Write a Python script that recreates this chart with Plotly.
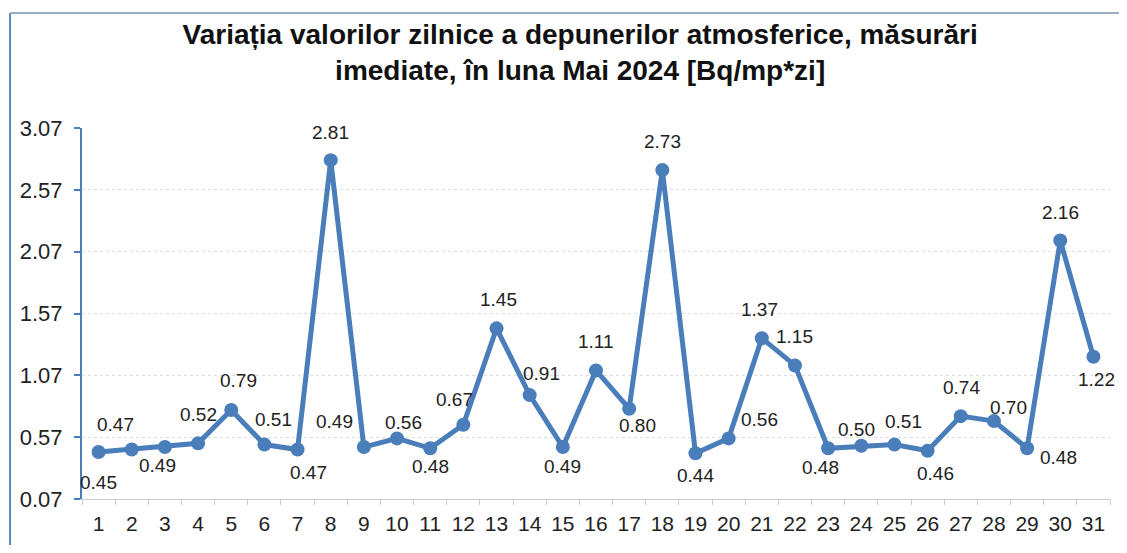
import plotly.graph_objects as go

days = [str(d) for d in range(1, 32)]
values = [0.45, 0.47, 0.49, 0.52, 0.79, 0.51, 0.47, 2.81, 0.49, 0.56,
          0.48, 0.67, 1.45, 0.91, 0.49, 1.11, 0.80, 2.73, 0.44, 0.56,
          1.37, 1.15, 0.48, 0.50, 0.51, 0.46, 0.74, 0.70, 0.48, 2.16, 1.22]
# label offsets in pixels (style only): horizontal shift, vertical shift (positive = up)
label_dx = [0, -16, -7, 0, 7, 9, 11, 0, -29, 6,
            0, -9, 2, 12, 0, 0, 8, 0, 0, 31,
            -2, 0, -8, -5, 9, 8, 1, 15, 31, 0, 3]
label_dy = [-30, 25, -18, 29, 29, 25, -23, 28, 26, 16,
            -18, 25, 29, 22, -19, 29, -17, 29, -22, 19,
            29, 29, -19, 16, 23, -23, 29, 14, -9, 28, -23]
y_ticks = [0.07, 0.57, 1.07, 1.57, 2.07, 2.57, 3.07]

title = "<b>Variația valorilor zilnice a depunerilor atmosferice, măsurări<br>imediate, în luna Mai 2024 [Bq/mp*zi]</b>"

blue = "#4A7EBB"

fig = go.Figure()
fig.add_trace(go.Scatter(
    x=days, y=values, mode="lines+markers",
    line=dict(color=blue, width=5),
    marker=dict(color=blue, size=14),
    showlegend=False,
))

# annotations on a category axis: use the category index so numeric-looking labels map correctly
for i, (v, dx, dy) in enumerate(zip(values, label_dx, label_dy)):
    fig.add_annotation(x=i, y=v, text=f"{v:.2f}", showarrow=False,
                       xshift=dx, yshift=dy,
                       font=dict(family="Liberation Sans, Arial", size=19, color="#222222"))

fig.update_layout(
    width=1111, height=537,
    paper_bgcolor="white", plot_bgcolor="white",
    margin=dict(l=74, r=9, t=120, b=46, autoexpand=False),
    title=dict(text=title, x=0.515, xanchor="center", y=0.933, yanchor="top",
               font=dict(family="Liberation Sans, Arial", size=28, color="#111111")),
    font=dict(family="Liberation Sans, Arial", color="#222222"),
    xaxis=dict(type="category", range=[-0.5, 30.5], showgrid=False, showline=True,
               linecolor="#cccccc", ticks="outside", ticklen=5, tickcolor="#cccccc",
               tickson="boundaries", tickfont=dict(size=21), tickangle=0,
               ticklabelstandoff=6, zeroline=False, automargin=False),
    yaxis=dict(range=[0.07, 3.07], tickvals=y_ticks, ticktext=[f"{v:.2f}" for v in y_ticks],
               showgrid=True, gridcolor="#dddddd", griddash="dot", gridwidth=1,
               showline=True, linecolor=blue, linewidth=2,
               ticks="outside", ticklen=6, tickcolor=blue, tickwidth=2,
               tickfont=dict(size=22), ticklabelstandoff=7, zeroline=False,
               automargin=False),
)

# outer chart frame (left and top edges visible in the reference)
fig.add_shape(type="line", xref="paper", yref="paper", x0=-0.07, x1=-0.07, y0=-0.2, y1=1.31,
              line=dict(color="#5b87c0", width=2))
fig.add_shape(type="line", xref="paper", yref="paper", x0=-0.07, x1=1.01, y0=1.31, y1=1.31,
              line=dict(color="#9aaec8", width=2))

fig.write_html("out.html")
